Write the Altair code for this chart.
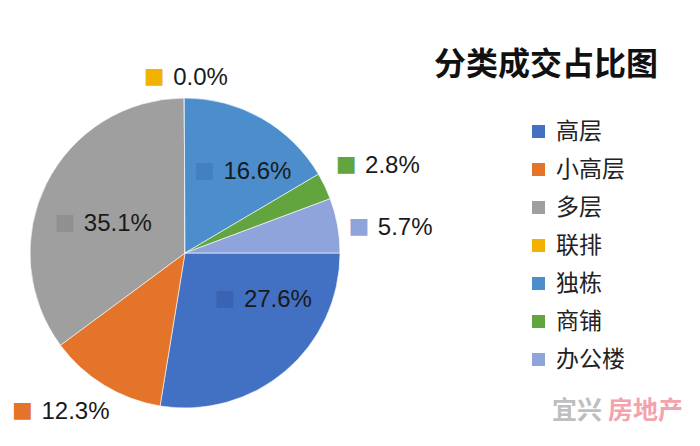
import math
import altair as alt
import pandas as pd

# ---- data ----
categories = ["高层", "小高层", "多层", "联排", "独栋", "商铺", "办公楼"]
shares = [27.6, 12.3, 35.1, 0.0, 16.6, 2.8, 5.7]
share_labels = ["27.6%", "12.3%", "35.1%", "0.0%", "16.6%", "2.8%", "5.7%"]
colors = ["#4270C2", "#E3742A", "#9F9F9F", "#F2B200", "#4C8DCC", "#62A53F", "#8EA4DB"]
# colour of the small key squares in the data labels
marker_colors = ["#3A63B3", "#E3742A", "#909090", "#F2B200", "#4380BF", "#62A53F", "#8EA4DB"]

# ---- label layout: radius (px) from pie centre and angular nudge (deg) ----
label_radius = [60, 226, 124, 180, 85, 184, 176]
label_nudge = [-1.3, 14.6, -12.3, -9.6, -16.4, -3.4, 1.3]

df = pd.DataFrame({
    "cat": categories,
    "share": shares,
    "lbl": share_labels,
    "idx": list(range(len(categories))),
    "lr": label_radius,
    "nudge": label_nudge,
    "mcol": marker_colors,
})

CX, CY, R = 177, 245, 155
START = math.pi / 2  # first slice starts at 3 o'clock

color_scale = alt.Scale(domain=categories, range=colors)

base = alt.Chart(df)

pie = base.mark_arc(radius=R, stroke="white", strokeWidth=0.6).encode(
    x=alt.value(CX),
    y=alt.value(CY),
    theta=alt.Theta("share:Q", stack=True,
                    scale=alt.Scale(range=[START, START + 2 * math.pi])),
    color=alt.Color(
        "cat:N",
        scale=color_scale,
        sort=categories,
        legend=alt.Legend(
            title=None,
            orient="none",
            legendX=519,
            legendY=112,
            symbolType="square",
            symbolSize=169,
            symbolStrokeWidth=0,
            labelFont="Noto Sans CJK SC",
            labelFontSize=23,
            labelColor="#222222",
            labelOffset=6,
            rowPadding=14,
            padding=0,
        ),
    ),
    order=alt.Order("idx:Q", sort="ascending"),
)

label_base = base.transform_joinaggregate(
    total="sum(share)"
).transform_window(
    cum="sum(share)", sort=[alt.SortField("idx", order="ascending")],
    frame=[None, 0]
).transform_calculate(
    mid="((datum.cum - datum.share / 2) / datum.total) * 2 * PI + PI / 2 + datum.nudge * PI / 180"
)

squares = label_base.mark_text(
    text="■", font="DejaVu Sans", fontSize=22, align="center", baseline="middle"
).encode(
    x=alt.value(CX),
    y=alt.value(CY),
    theta=alt.Theta("mid:Q", scale=None, stack=False),
    radius=alt.Radius("lr:Q", scale=None),
    color=alt.Color("mcol:N", scale=None, legend=None),
)

numbers = label_base.mark_text(
    font="Liberation Sans", fontSize=24, align="left", baseline="middle",
    dx=19, dy=2, color="#1a1a1a"
).encode(
    x=alt.value(CX),
    y=alt.value(CY),
    theta=alt.Theta("mid:Q", scale=None, stack=False),
    radius=alt.Radius("lr:Q", scale=None),
    text="lbl:N",
)

title = alt.Chart(pd.DataFrame({"t": ["分类成交占比图"]})).mark_text(
    font="Noto Sans CJK SC", fontSize=32, fontWeight="bold",
    align="center", baseline="middle", color="#111111"
).encode(x=alt.value(538), y=alt.value(57), text="t:N")

wm1 = alt.Chart(pd.DataFrame({"t": ["宜兴"]})).mark_text(
    font="Noto Sans CJK SC", fontSize=25, fontWeight="bold",
    align="left", baseline="middle", color="#BEBEBE"
).encode(x=alt.value(544), y=alt.value(403), text="t:N")

wm2 = alt.Chart(pd.DataFrame({"t": ["房地产"]})).mark_text(
    font="Noto Sans CJK SC", fontSize=25, fontWeight="bold",
    align="left", baseline="middle", color="#F4A3AC"
).encode(x=alt.value(600), y=alt.value(403), text="t:N")

chart = alt.layer(pie, squares, numbers, title, wm1, wm2).properties(
    width=684, height=430,
    autosize=alt.AutoSizeParams(type="none"),
    padding=0,
    background="white",
).configure_view(strokeWidth=0)

chart.save("out.html", embed_options={"renderer": "svg", "actions": False})
